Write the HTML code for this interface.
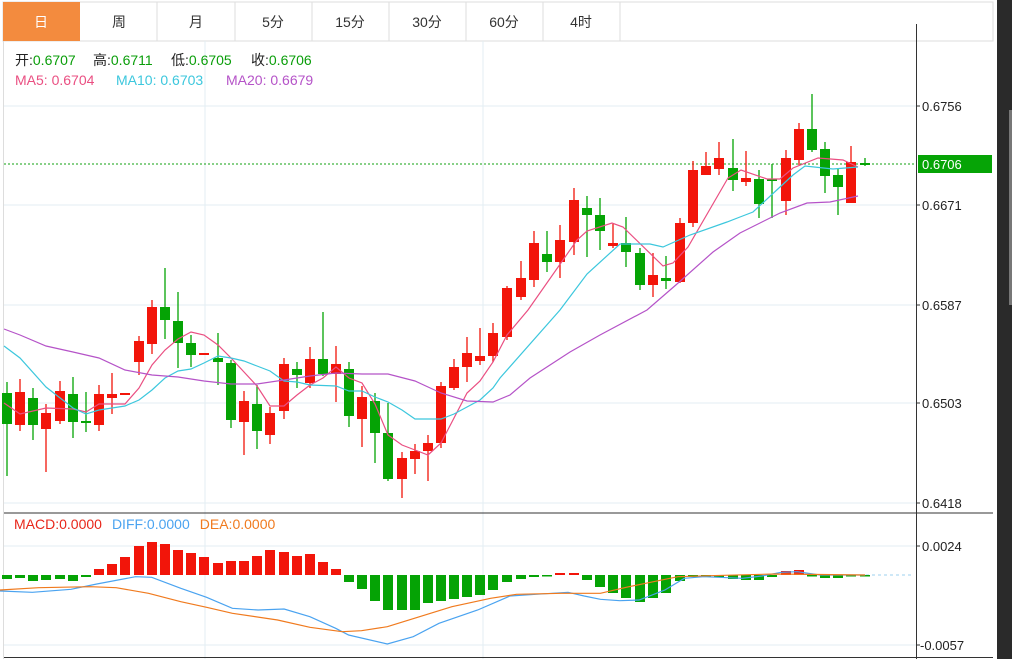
<!DOCTYPE html>
<html><head><meta charset="utf-8"><style>
html,body{margin:0;padding:0;background:#fff;width:1012px;height:659px;overflow:hidden;font-family:"Liberation Sans","Noto Sans CJK SC",sans-serif}
svg{position:absolute;left:0;top:0}
</style></head><body>
<svg id="s" width="1012" height="659" xmlns="http://www.w3.org/2000/svg" font-family="Liberation Sans, Noto Sans CJK SC, sans-serif">
<rect x="0" y="0" width="1012" height="659" fill="#fff"/>
<rect x="3" y="2" width="990" height="39" fill="#fff" stroke="#ddd"/>
<rect x="3" y="2" width="77" height="39" fill="#f38b3e"/>
<g stroke="#ddd"><line x1="157" y1="2" x2="157" y2="41"/><line x1="235" y1="2" x2="235" y2="41"/><line x1="312" y1="2" x2="312" y2="41"/><line x1="389" y1="2" x2="389" y2="41"/><line x1="466" y1="2" x2="466" y2="41"/><line x1="543" y1="2" x2="543" y2="41"/><line x1="620" y1="2" x2="620" y2="41"/></g>
<g font-size="14" fill="#333" text-anchor="middle">
<text x="41" y="27" fill="#fff">日</text><text x="119" y="27">周</text><text x="196" y="27">月</text><text x="273" y="27">5分</text><text x="350" y="27">15分</text><text x="427" y="27">30分</text><text x="504" y="27">60分</text><text x="581" y="27">4时</text></g>
<line x1="3.5" y1="41" x2="3.5" y2="659" stroke="#ddd"/>
<g stroke="#e3edf3"><line x1="4" y1="106" x2="916" y2="106"/><line x1="4" y1="205" x2="916" y2="205"/><line x1="4" y1="305" x2="916" y2="305"/><line x1="4" y1="403" x2="916" y2="403"/><line x1="4" y1="503" x2="916" y2="503"/>
<line x1="205" y1="41" x2="205" y2="659"/><line x1="483" y1="41" x2="483" y2="659"/>
<line x1="4" y1="546" x2="916" y2="546"/><line x1="4" y1="645" x2="916" y2="645"/></g>
<line x1="916.5" y1="24" x2="916.5" y2="659" stroke="#333"/>
<line x1="4" y1="513" x2="993" y2="513" stroke="#333"/>
<line x1="4" y1="657.5" x2="993" y2="657.5" stroke="#333"/>
<g font-size="13" fill="#222"><text x="922" y="111">0.6756</text><text x="922" y="210">0.6671</text><text x="922" y="310">0.6587</text><text x="922" y="408">0.6503</text><text x="922" y="508">0.6418</text><text x="922" y="551">0.0024</text><text x="920" y="650">-0.0057</text></g>
<g stroke="#333"><line x1="916" y1="106" x2="920" y2="106"/><line x1="916" y1="205" x2="920" y2="205"/><line x1="916" y1="305" x2="920" y2="305"/><line x1="916" y1="403" x2="920" y2="403"/><line x1="916" y1="503" x2="920" y2="503"/><line x1="916" y1="546" x2="920" y2="546"/><line x1="916" y1="645" x2="920" y2="645"/></g>
<line x1="4" y1="164" x2="916" y2="164" stroke="#10a010" stroke-dasharray="2,2"/>
<rect x="918" y="155" width="74" height="18" fill="#06a406"/>
<text x="922" y="169" font-size="13" fill="#fff">0.6706</text>
<rect x="997" y="0" width="15" height="659" fill="#2a2a2a"/>
<rect x="1009" y="110" width="3" height="195" fill="#777"/>
<line x1="866" y1="575" x2="912" y2="575" stroke="#9cd0ef" stroke-dasharray="3,3"/>
<g id="c"></g>
<g font-size="14">
<text x="15" y="65"><tspan fill="#222">开:</tspan><tspan fill="#0a9e0a">0.6707</tspan></text>
<text x="93" y="65"><tspan fill="#222">高:</tspan><tspan fill="#0a9e0a">0.6711</tspan></text>
<text x="171" y="65"><tspan fill="#222">低:</tspan><tspan fill="#0a9e0a">0.6705</tspan></text>
<text x="251" y="65"><tspan fill="#222">收:</tspan><tspan fill="#0a9e0a">0.6706</tspan></text>
<text x="15" y="85" fill="#ea4f82">MA5: 0.6704</text>
<text x="116" y="85" fill="#3cc7dd">MA10: 0.6703</text>
<text x="226" y="85" fill="#b553c8">MA20: 0.6679</text></g>
<text x="14" y="529" font-size="14"><tspan fill="#e8261a">MACD:0.0000</tspan><tspan fill="#4aa3f0" dx="10">DIFF:0.0000</tspan><tspan fill="#f07a1e" dx="10">DEA:0.0000</tspan></text>
</svg>
<script>
var g=document.getElementById('c'),h='';
var C=[[7,'g',393,424,382,476],[20,'r',392,425,379,431],[33,'g',398,425,388,440],[46,'r',413,429,404,472],[60,'r',391,421,381,424],[73,'g',394,422,377,438],[86,'g',421,423,392,432],[99,'r',394,425,385,431],[112,'r',394,398,373,414],[125,'r',393,394,393,394],[139,'r',341,362,336,375],[152,'r',307,344,300,354],[165,'g',307,320,268,339],[178,'g',321,343,292,368],[191,'g',343,355,335,367],[204,'r',353,355,353,355],[218,'g',358,362,333,385],[231,'g',363,420,360,428],[244,'r',401,422,391,455],[257,'g',404,431,385,449],[270,'r',413,435,407,444],[284,'r',364,411,358,419],[297,'g',369,375,362,388],[310,'r',359,383,347,388],[323,'g',359,374,312,376],[336,'r',364,374,346,402],[349,'g',369,416,362,427],[362,'r',397,419,386,447],[375,'g',401,433,393,463],[388,'g',433,479,403,481],[402,'r',458,479,452,498],[415,'r',451,459,444,474],[428,'r',443,451,435,481],[441,'r',386,443,382,448],[454,'r',367,388,359,390],[467,'r',353,367,337,382],[480,'r',356,361,328,365],[493,'r',333,356,323,362],[507,'r',288,337,286,340],[521,'r',278,297,261,300],[534,'r',243,280,231,287],[547,'g',254,262,231,272],[560,'r',240,262,225,278],[574,'r',200,242,188,255],[587,'g',208,215,196,257],[600,'g',215,231,198,250],[613,'r',243,246,224,248],[626,'g',243,252,217,267],[640,'g',253,285,248,290],[653,'r',275,285,253,297],[666,'g',278,281,256,289],[680,'r',223,282,218,283],[693,'r',170,223,161,227],[706,'r',166,175,152,175],[719,'r',158,169,142,175],[733,'g',168,180,139,191],[746,'r',178,182,151,186],[759,'g',179,204,170,218],[772,'g',179,181,164,218],[786,'r',158,201,150,215],[799,'r',129,160,123,165],[812,'g',129,150,94,152],[825,'g',149,176,142,193],[838,'g',175,187,168,215],[851,'r',162,203,146,203],[865,'g',163,165,158,166]];
C.forEach(function(c){var col=c[1]=='r'?'#f2150a':'#05a305';h+='<line x1="'+c[0]+'" y1="'+c[4]+'" x2="'+c[0]+'" y2="'+c[5]+'" stroke="'+col+'" stroke-width="1.3"/>';h+='<rect x="'+(c[0]-5)+'" y="'+c[2]+'" width="10" height="'+Math.max(2,c[3]-c[2])+'" fill="'+col+'"/>';});
function pl(p,col){h+='<polyline fill="none" stroke="'+col+'" stroke-width="1.2" points="'+p+'"/>';}
pl('4,403 20,414 46,408 73,409 86,412 99,404 125,404 139,388 152,365 165,350 178,339 191,332 204,335 218,345 231,358 244,372 257,386 270,406 284,406 297,395 310,385 323,378 336,367 349,378 362,383 375,404 388,435 402,445 415,450 428,455 441,443 454,418 467,393 480,381 493,362 507,335 528,310 577,240 587,231 612,223 623,227 663,266 673,263 688,247 728,178 741,170 767,179 780,179 793,168 818,158 843,160 858,167','#ea4f82');
pl('4,346 20,358 46,387 73,408 86,414 99,410 125,406 139,400 152,390 165,378 178,371 191,369 204,363 218,356 231,358 244,361 257,366 270,371 284,381 297,382 310,385 336,386 349,391 362,391 375,397 388,402 402,410 415,419 441,419 454,414 467,407 480,400 493,388 500,378 560,310 587,274 620,244 650,244 663,247 690,235 727,222 740,217 753,212 780,187 793,175 805,166 833,169 858,167','#3cc7dd');
pl('4,329 20,335 46,346 73,352 99,358 125,370 152,375 178,377 204,381 231,384 257,384 284,380 310,376 336,373 362,374 388,374 415,381 441,393 467,401 493,402 510,395 530,378 570,352 600,335 647,310 677,284 713,252 740,233 780,213 807,203 830,202 858,196','#b553c8');
var M=[579,578,581,580,579,581,577,569,564,557,546,542,544,550,553,557,563,561,561,556,550,552,556,554,562,569,582,589,601,610,610,610,603,601,599,597,595,590,582,579,577,576,573,573,580,587,593,598,602,598,593,581,577,576,577,579,580,580,577,571,570,576,578,578,575,575];
M.forEach(function(y,i){if(!C[i])return;var x=C[i][0];var up=y<575;h+='<rect x="'+(x-5)+'" y="'+(up?y:575)+'" width="10" height="'+Math.max(1.5,Math.abs(y-575))+'" fill="'+(up?'#f2150a':'#05a305')+'"/>';});
function mp(a,col){pl(a.map(function(p){return (p[0]/1.549).toFixed(1)+','+(p[1]/3+510).toFixed(1)}).join(' '),col);}
mp([[0,243],[50,247],[110,238],[150,222],[210,200],[235,202],[280,235],[320,262],[360,295],[400,300],[440,297],[480,320],[520,355],[540,375],[600,402],[640,380],[680,340],[740,300],[790,258],[830,253],[880,247],[905,258],[930,268],[960,272],[990,270],[1030,240],[1060,205],[1090,200],[1150,205],[1180,198],[1210,187],[1235,185],[1270,195],[1340,195]],'#4aa3f0');
mp([[0,240],[60,233],[140,230],[180,233],[230,250],[280,275],[320,292],[360,310],[430,330],[480,352],[530,365],[560,362],[600,350],[650,320],[700,290],[760,265],[800,253],[870,250],[930,250],[970,232],[1000,220],[1050,200],[1100,197],[1200,192],[1340,195]],'#f07a1e');
g.innerHTML=h;
</script>
</body></html>
